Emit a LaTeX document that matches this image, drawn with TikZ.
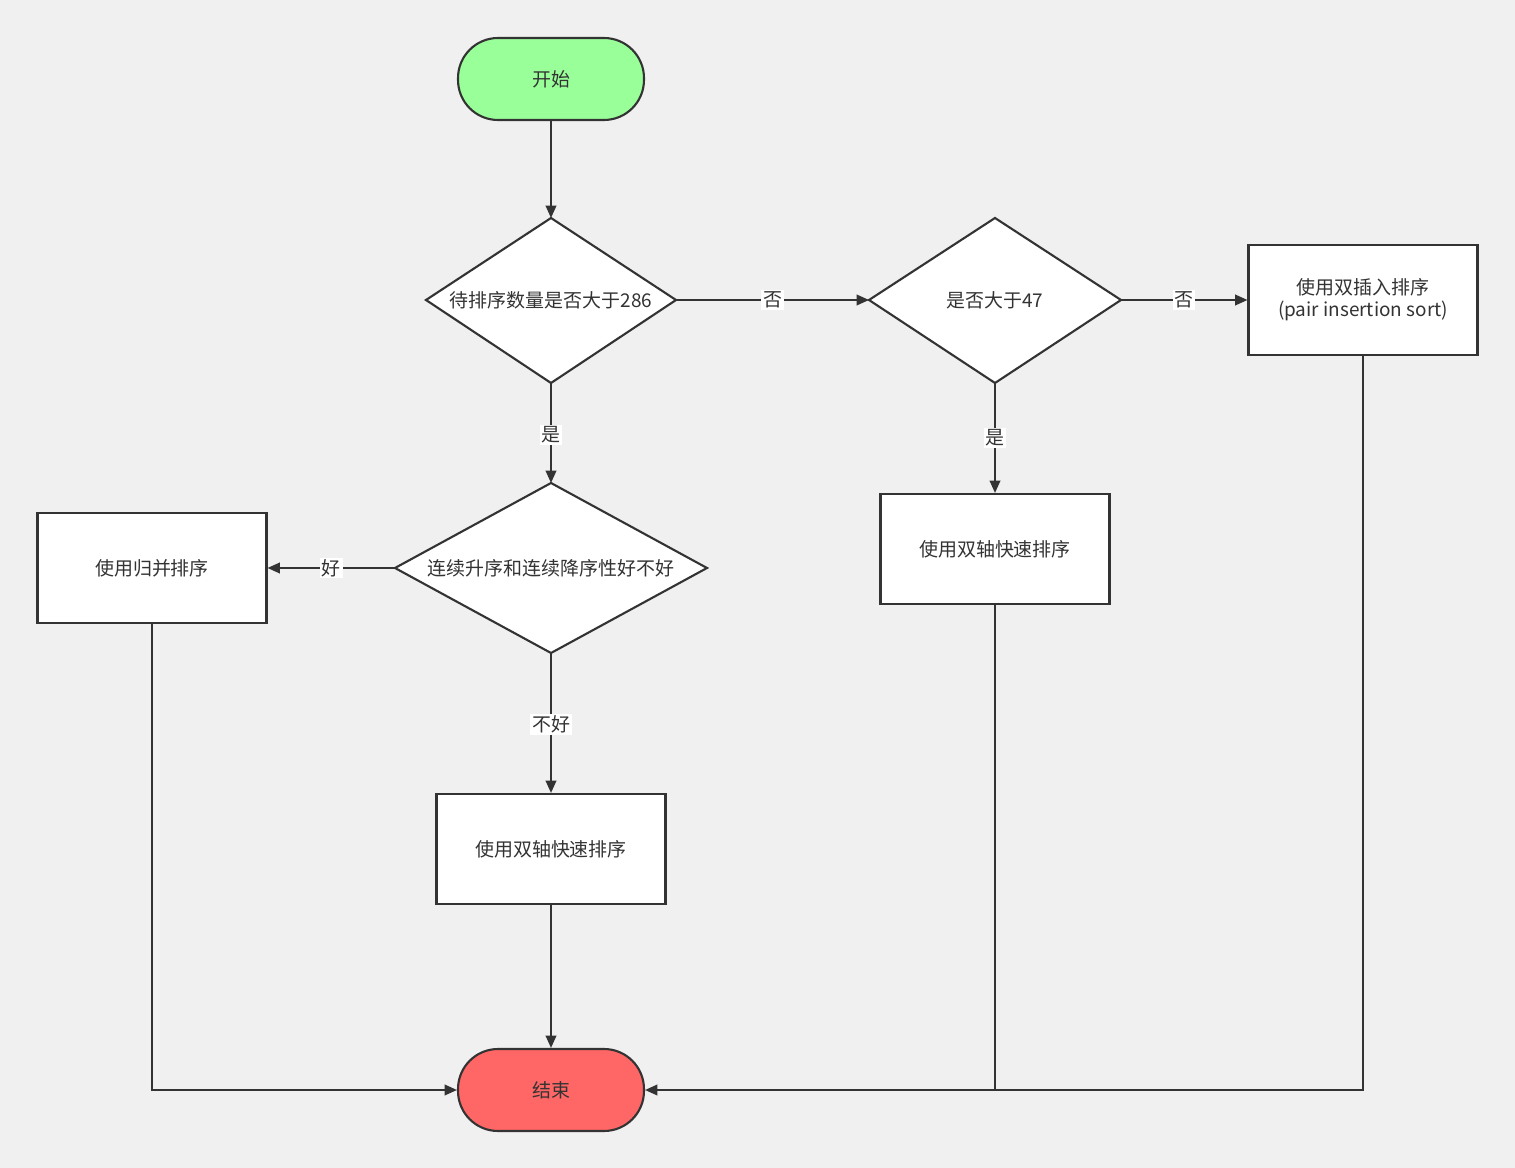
\documentclass[tikz,border=0pt]{standalone}
\usepackage{fontspec}
\setmainfont{Noto Sans CJK SC}
\usetikzlibrary{arrows.meta}
\definecolor{bg}{HTML}{F0F0F0}
\definecolor{ln}{HTML}{333333}
\definecolor{st}{HTML}{99FF99}
\definecolor{en}{HTML}{FF6666}
\begin{document}
\begin{tikzpicture}[x=0.02cm,y=-0.02cm,
  every node/.style={font=\fontsize{10.8}{12.5}\selectfont, text=ln},
  box/.style={draw=ln, line width=1.2pt, fill=white, minimum width=4.58cm, minimum height=2.2cm, align=center},
  term/.style={draw=ln, line width=1.2pt, rounded corners=0.8cm, minimum width=3.72cm, minimum height=1.64cm},
  dia/.style={draw=ln, line width=1.2pt, fill=white},
  con/.style={draw=ln, line width=1.1pt, -{Triangle[length=7pt,width=6pt]}},
  lin/.style={draw=ln, line width=1.1pt},
  lab/.style={fill=white, inner sep=1pt}]
\fill[bg] (0,0) rectangle (1515,1168);
\useasboundingbox (0,0) rectangle (1515,1168);
% diamonds
\draw[dia] (426,300)--(551,218)--(676,300)--(551,383)--cycle;
\node (d1) at (551,300) {待排序数量是否大于286};
\draw[dia] (869,300)--(995,218)--(1121,300)--(995,383)--cycle;
\node (d2) at (995,300) {是否大于47};
\draw[dia] (395,568)--(551,483)--(707,568)--(551,653)--cycle;
\node (d3) at (551,568) {连续升序和连续降序性好不好};
\coordinate (d1t) at (551,218); \coordinate (d1r) at (676,300); \coordinate (d1b) at (551,383);
\coordinate (d2l) at (869,300); \coordinate (d2r) at (1121,300); \coordinate (d2b) at (995,383);
\coordinate (d3t) at (551,483); \coordinate (d3l) at (395,568); \coordinate (d3b) at (551,653);
\node[term, fill=st] (start) at (551,79) {开始};
\node[term, fill=en] (end) at (551,1090) {结束};
\node[box] (ins) at (1363,300) {使用双插入排序\\(pair insertion sort)};
\node[box] (mrg) at (152,568) {使用归并排序};
\node[box] (qr) at (995,549) {使用双轴快速排序};
\node[box] (qm) at (551,849) {使用双轴快速排序};
\draw[con] (start) -- (d1t);
\draw[con] (d1r) -- node[lab]{否} (d2l);
\draw[con] (d2r) -- node[lab, pos=0.5]{否} (ins.west);
\draw[con] (d1b) -- node[lab, pos=0.52]{是} (d3t);
\draw[con] (d2b) -- node[lab, pos=0.5]{是} (qr.north);
\draw[con] (d3l) -- node[lab]{好} (mrg.east);
\draw[con] (d3b) -- node[lab, pos=0.51]{不好} (qm.north);
\draw[con] (qm) -- (end);
\draw[con] (mrg.south) |- (end.west);
\draw[con] (ins.south) |- (end.east);
\draw[lin] (qr.south) -- (qr.south |- end.east);
\end{tikzpicture}
\end{document}
